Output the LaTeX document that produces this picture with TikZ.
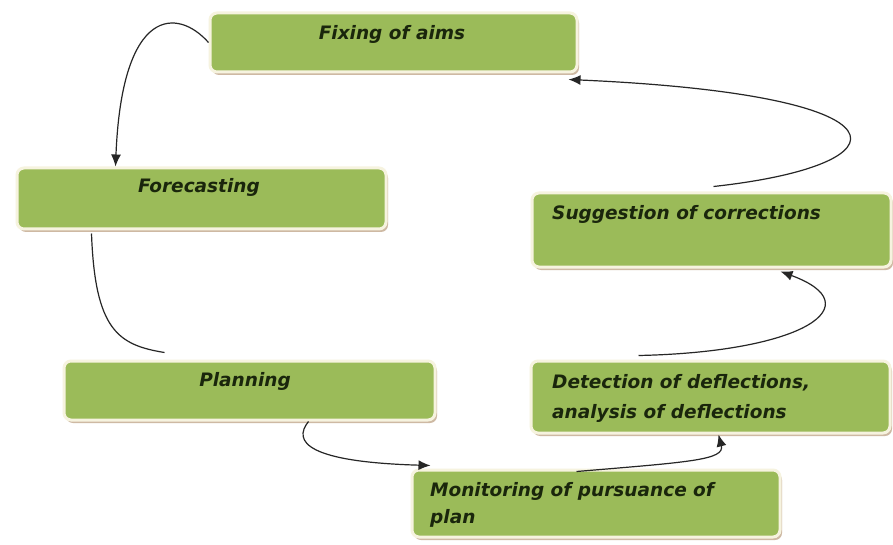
\documentclass[tikz,border=0pt]{standalone}
\usepackage{fontspec}
\setsansfont{DejaVu Sans}
\usetikzlibrary{arrows.meta,shadows}

\definecolor{boxgreen}{HTML}{9BBB59}
\definecolor{boxrim}{HTML}{F6F3DF}
\definecolor{boxtext}{HTML}{1A260C}

\begin{document}
\begin{tikzpicture}[x=1pt, y=-1pt,
    stage/.style={rectangle, rounded corners=7pt, fill=boxgreen, draw=boxrim, line width=3pt, inner sep=0pt,
        drop shadow={shadow xshift=2pt, shadow yshift=-3pt, fill=brown!60!gray, opacity=.55}},
    stagetext/.style={font=\sffamily\bfseries\itshape\fontsize{18.5}{30}\selectfont, text=boxtext, align=left, inner sep=0pt},
    flow/.style={line width=1.2pt, black!85, -{Latex[length=12pt, width=10pt]}}
    ]

    % fix the page to the size of the picture
    \useasboundingbox[fill=white] (0,0) rectangle (893,545);

    % the six stages of the control cycle
    \node[stage, minimum width=367pt, minimum height=59pt] (aims) at (393.5,42.5) {};
    \node[stage, minimum width=369pt, minimum height=61pt] (fore) at (201.5,198.5) {};
    \node[stage, minimum width=371pt, minimum height=59pt] (plan) at (249.5,390.5) {};
    \node[stage, minimum width=368pt, minimum height=67pt] (moni) at (596,503.5) {};
    \node[stage, minimum width=359pt, minimum height=72pt] (dete) at (710.5,397) {};
    \node[stage, minimum width=359pt, minimum height=74pt] (sugg) at (711.5,230) {};

    % texts sit in the upper part of each box (base = last line)
    \node[stagetext, anchor=base] (aimstxt) at (392,40) {Fixing of aims};
    \node[stagetext, anchor=base] (foretxt) at (199,193) {Forecasting};
    \node[stagetext, anchor=base] (plantxt) at (245,386) {Planning};
    \node[stagetext, anchor=base west] (suggtxt) at (552,220) {Suggestion of corrections};
    \node[stagetext, anchor=base west] (detetxt) at (552,418) {Detection of deflections,\\analysis of deflections};
    \node[stagetext, anchor=base west] (monitxt) at (430,523) {Monitoring of pursuance of\\[-3pt]plan};

    % connectors
    \draw[flow] (aims.west) .. controls (178,8) and (122,5) .. ([xshift=100pt]fore.north west);
    \draw[line width=1.2pt, black!85] ([xshift=76pt, yshift=-3pt]fore.south west) .. controls (95,330) and (118,345) .. ([xshift=102pt, yshift=7pt]plan.north west);
    \draw[flow] ([xshift=246pt]plan.south west) .. controls (292,442) and (308,462) .. ([xshift=20pt, yshift=3pt]moni.north west);
    \draw[flow] ([xshift=166pt, yshift=-3pt]moni.north west) .. controls (690,462) and (725,460) .. ([xshift=189pt]dete.south west);
    \draw[flow] ([xshift=109pt, yshift=4pt]dete.north west) .. controls (805,352) and (872,305) .. ([xshift=250pt, yshift=-3pt]sugg.south west);
    \draw[flow] ([xshift=183pt, yshift=5pt]sugg.north west) .. controls (910,165) and (920,95) .. ([xshift=-10pt, yshift=-6pt]aims.south east);

\end{tikzpicture}
\end{document}
